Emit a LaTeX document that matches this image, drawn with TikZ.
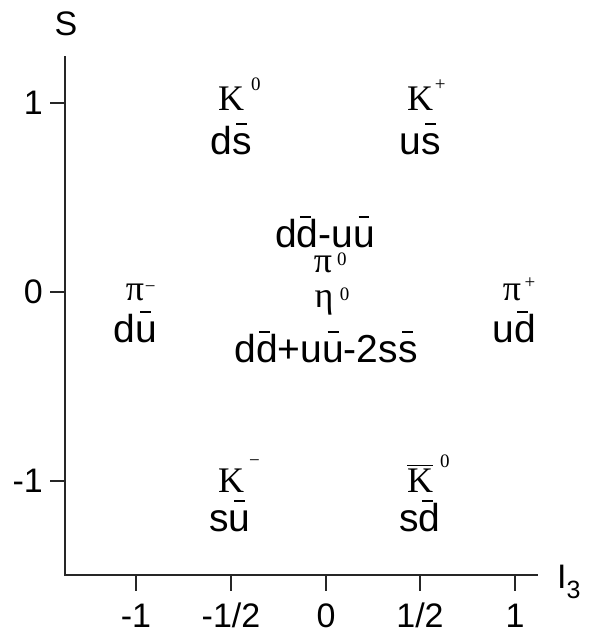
\documentclass[tikz,border=0pt]{standalone}
\usepackage{fontspec}
\setmainfont{Liberation Sans}
\newfontfamily\tms{Liberation Serif}

% antiquark: letter with a short bar just above ascender height
\newcommand\qb[2][0em]{\setbox0\hbox{#2}\rlap{\hskip\dimexpr(\wd0-0.28em)/2+#1\relax\raisebox{0.75em}{\rule{0.28em}{0.045em}}}\box0}
% barred K (antikaon)
\newcommand\kbar{\setbox0\hbox{K}\rlap{\raisebox{\dimexpr\ht0+0.06em\relax}{\rule{\wd0}{0.04em}}}\box0}
% small raised charge label (gap, raise, text) that does not shift the centre of the symbol
\newcommand\chg[3]{\rlap{\hskip#1\raisebox{#2}{\fontsize{19}{19}\selectfont #3}}}

\begin{document}
\begin{tikzpicture}[x=1pt,y=-1pt,
  axis/.style={line width=1.3pt,draw=black!85},
  tick/.style={line width=1.3pt,draw=black!85},
  lab/.style={font=\fontsize{34}{34}\selectfont,inner sep=0pt},
  quark/.style={font=\fontsize{39}{39}\selectfont,inner sep=0pt,anchor=base},
  meson/.style={font=\tms\fontsize{36}{36}\selectfont,inner sep=0pt,anchor=base}]
\useasboundingbox (0,0) rectangle (596,640);

% axes
\coordinate (o) at (65,575);
\coordinate (ytop) at (65,56);
\coordinate (xend) at (538,575);
\draw[axis] (ytop) -- (o) -- (xend);

% x ticks and labels
\foreach \xv/\t [count=\i] in {136/-1,231/-1\slash 2,326/0,420/1\slash 2,515/1}{
  \coordinate (xt\i) at (\xv,575);
  \coordinate (xb\i) at (\xv,591);
  \draw[tick] (xt\i) -- (xb\i);
  \node[lab,anchor=base] (xl\i) at (\xv,627) {\t};
}
% y ticks and labels
\foreach \yv/\t [count=\i] in {103/1,292/0,481/-1}{
  \coordinate (yr\i) at (65,\yv);
  \coordinate (yl\i) at (50,\yv);
  \draw[tick] (yl\i) -- (yr\i);
  \node[lab,anchor=east] (ylab\i) at (43,\yv) {\t};
}
\node[lab] (Slab) at (66,24) {S};
\node[lab,anchor=west] (I3lab) at (557,582) {I\raisebox{-0.3em}{\fontsize{25}{25}\selectfont 3}};

% S = +1
\node[meson] (K0) at (231,110) {K\chg{0.2em}{0.55em}{0}};
\node[quark] (dsb) at (231,154) {d\qb{s}};
\node[meson] (Kp) at (420,110) {K\chg{0.05em}{0.55em}{+}};
\node[quark] (usb) at (420,154) {u\qb{s}};

% S = 0
\node[meson] (pim) at (135,300) {π\chg{0.02em}{0.22em}{−}};
\node[quark] (dub) at (135,342) {d\qb{u}};
\node[meson] (pip) at (512,300) {π\chg{0.1em}{0.33em}{+}};
\node[quark] (udb) at (514,342) {u\qb[-0.06em]{d}};

\node[quark] (mix1) at (325,247) {d\qb[-0.06em]{d}-u\qb{u}};
\node[meson] (pi0) at (323,272) {π\chg{0.14em}{0.17em}{0}};
\node[meson] (eta0) at (324,307) {η\chg{0.18em}{0.17em}{0}};
\node[quark] (mix2) at (326,362) {d\qb[-0.06em]{d}+u\qb{u}-2s\qb{s}};

% S = -1
\node[meson] (Km) at (231,492) {K\chg{0.14em}{0.7em}{−}};
\node[quark] (sub) at (230,531) {s\qb{u}};
\node[meson] (K0b) at (420,492) {\kbar\chg{0.2em}{0.68em}{0}};
\node[quark] (sdb) at (420,531) {s\qb[-0.06em]{d}};
\end{tikzpicture}
\end{document}
